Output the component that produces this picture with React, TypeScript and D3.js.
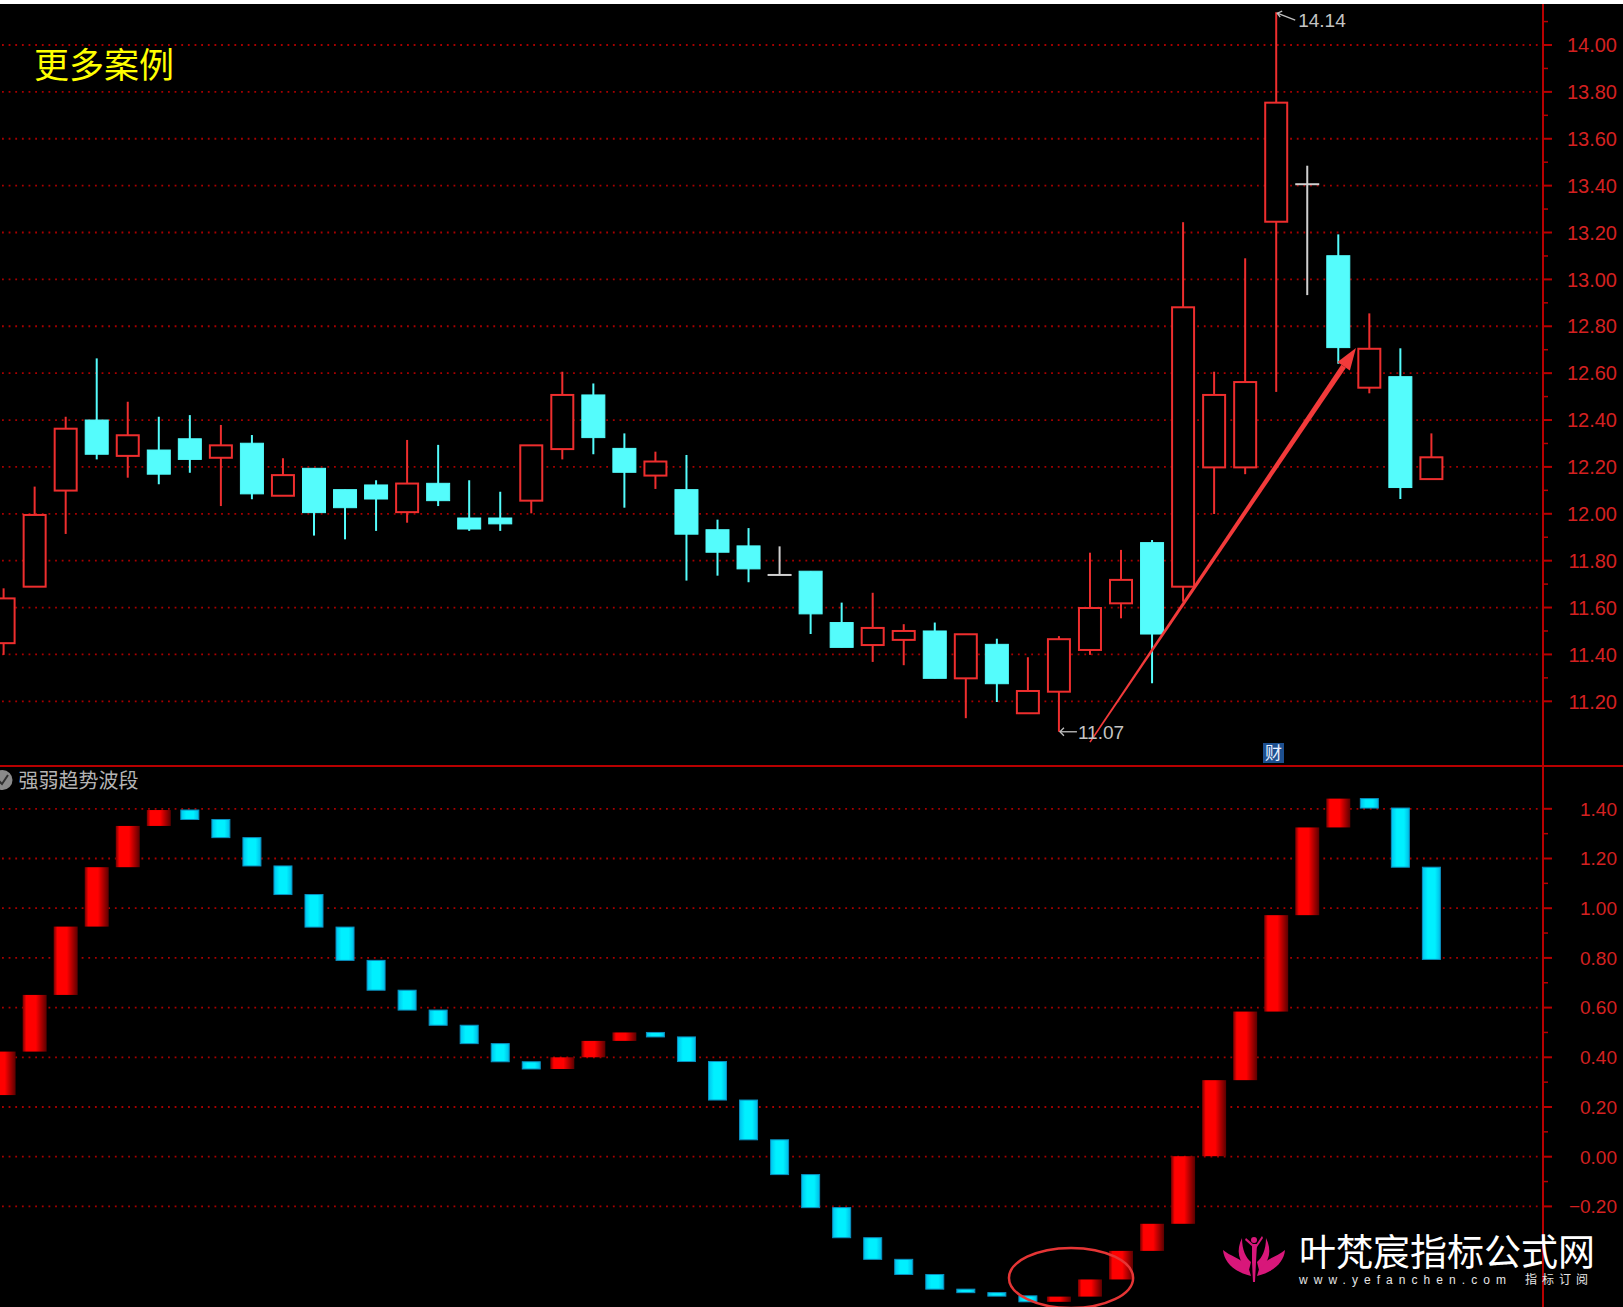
import React from 'react';
import * as d3 from 'd3';

const W = 1623;
const H = 1307;

// Daily candles (open / high / low / close)
const opens = [11.448, 11.689, 12.099, 12.4, 12.247, 12.272, 12.32, 12.239, 12.301, 12.077, 12.194, 12.103, 12.123, 12.007, 12.13, 11.982, 11.982, 12.056, 12.276, 12.507, 12.279, 12.163, 12.103, 11.932, 11.863, 11.739, 11.755, 11.536, 11.44, 11.462, 11.5, 11.298, 11.443, 11.149, 11.241, 11.419, 11.618, 11.877, 11.689, 12.198, 12.198, 13.246, 13.406, 13.101, 12.538, 12.585, 12.148];
const highs = [11.682, 12.116, 12.414, 12.663, 12.478, 12.414, 12.421, 12.379, 12.336, 12.237, 12.194, 12.103, 12.143, 12.315, 12.294, 12.143, 12.094, 12.292, 12.606, 12.556, 12.343, 12.265, 12.251, 11.975, 11.939, 11.861, 11.755, 11.621, 11.663, 11.529, 11.536, 11.486, 11.467, 11.388, 11.478, 11.834, 11.846, 11.888, 13.244, 12.606, 13.09, 14.14, 13.485, 13.192, 12.855, 12.706, 12.343];
const lows = [11.398, 11.689, 11.914, 12.232, 12.154, 12.126, 12.175, 12.033, 12.062, 12.077, 11.907, 11.891, 11.927, 11.962, 12.033, 11.927, 11.927, 12.002, 12.232, 12.254, 12.026, 12.106, 11.715, 11.736, 11.708, 11.739, 11.487, 11.43, 11.368, 11.354, 11.298, 11.128, 11.197, 11.149, 11.07, 11.398, 11.554, 11.277, 11.625, 11.999, 12.169, 12.52, 12.933, 12.64, 12.514, 12.063, 12.148];
const closes = [11.639, 11.995, 12.363, 12.254, 12.335, 12.169, 12.232, 12.292, 12.085, 12.165, 12.005, 12.026, 12.063, 12.129, 12.056, 11.935, 11.957, 12.292, 12.507, 12.325, 12.177, 12.223, 11.913, 11.836, 11.765, 11.739, 11.573, 11.43, 11.513, 11.5, 11.298, 11.486, 11.275, 11.244, 11.465, 11.598, 11.718, 11.487, 12.881, 12.507, 12.562, 13.754, 13.406, 12.709, 12.704, 12.112, 12.241];
const priceTicks = [14.0, 13.8, 13.6, 13.4, 13.2, 13.0, 12.8, 12.6, 12.4, 12.2, 12.0, 11.8, 11.6, 11.4, 11.2];

// 强弱趋势波段 line: first entry is the level before the first day
const bandValues = [0.248, 0.423, 0.651, 0.926, 1.165, 1.331, 1.395, 1.357, 1.284, 1.17, 1.055, 0.924, 0.79, 0.67, 0.59, 0.529, 0.455, 0.382, 0.353, 0.4, 0.466, 0.5, 0.482, 0.383, 0.228, 0.068, -0.072, -0.205, -0.326, -0.413, -0.474, -0.533, -0.547, -0.56, -0.584, -0.563, -0.494, -0.379, -0.27, 0.002, 0.308, 0.584, 0.972, 1.325, 1.441, 1.403, 1.165, 0.794];
const bandTicks = [1.4, 1.2, 1.0, 0.8, 0.6, 0.4, 0.2, 0.0, -0.2];

// annotations in data units
const trendArrow = { from: [35.0, 11.026], to: [43.57, 12.707] };
const turnMark = { index: 34.39, value: -0.488, rIndex: 2.0, rValue: 0.121 };
const highMark = { index: 41, value: 14.14 };
const lowMark = { index: 34, value: 11.07 };

const AXIS_X = 1543;
const SPLIT_Y = 766;
const RED = '#ee2e2e';
const CYAN = '#54fcfc';
const GRID = '#a80000';
const AXIS = '#b80000';
const LABEL = '#d42020';

const x = d3.scaleLinear().domain([0, 46]).range([3.6, 1431.4]);
const yP = d3.scaleLinear().domain([11.2, 14.0]).range([701.3, 45]);
const yB = d3.scaleLinear().domain([-0.2, 1.4]).range([1206.4, 808.8]);

function Candles() {
  return (
    <g>
      {opens.map((o, i) => {
        const c = closes[i];
        const h = highs[i];
        const l = lows[i];
        const cx = x(i);
        if (o === c) {
          const col = '#d0d0d0';
          return (
            <g key={i} stroke={col} strokeWidth={2}>
              <line x1={cx} x2={cx} y1={yP(h)} y2={yP(l)} />
              <line x1={cx - 12} x2={cx + 12} y1={yP(o)} y2={yP(o)} />
            </g>
          );
        }
        const top = yP(Math.max(o, c));
        const bot = yP(Math.min(o, c));
        if (c > o) {
          return (
            <g key={i} stroke={RED} strokeWidth={2} fill="#000">
              <line x1={cx} x2={cx} y1={yP(h)} y2={top} />
              <line x1={cx} x2={cx} y1={bot} y2={yP(l)} />
              <rect x={cx - 11} y={top} width={22} height={Math.max(bot - top, 1)} />
            </g>
          );
        }
        return (
          <g key={i} stroke={CYAN} fill={CYAN}>
            <line x1={cx} x2={cx} y1={yP(h)} y2={yP(l)} strokeWidth={2} />
            <rect x={cx - 11.5} y={top} width={23} height={Math.max(bot - top, 1)} strokeWidth={1} />
          </g>
        );
      })}
    </g>
  );
}

function BandBars() {
  const bars = [];
  for (let i = 0; i < bandValues.length - 1; i++) {
    const prev = bandValues[i];
    const cur = bandValues[i + 1];
    const up = cur > prev;
    const top = yB(Math.max(prev, cur));
    const bot = yB(Math.min(prev, cur));
    const hgt = Math.max(bot - top, 3.5);
    const w = up ? 24 : 18;
    bars.push(
      <rect
        key={i}
        x={x(i) - w / 2}
        y={top}
        width={w}
        height={hgt}
        fill={up ? 'url(#redBar)' : 'url(#cyanBar)'}
        stroke={up ? 'none' : '#0a8fbf'}
        strokeWidth={up ? 0 : 1}
      />
    );
  }
  return <g>{bars}</g>;
}

function Arrow() {
  const x0 = x(trendArrow.from[0]);
  const y0 = yP(trendArrow.from[1]);
  const x1 = x(trendArrow.to[0]);
  const y1 = yP(trendArrow.to[1]);
  const len = Math.hypot(x1 - x0, y1 - y0);
  const ux = (x1 - x0) / len;
  const uy = (y1 - y0) / len;
  const nx = -uy;
  const ny = ux;
  const headLen = 22;
  const bx = x1 - ux * headLen;
  const by = y1 - uy * headLen;
  const shaft = [
    [x0 + nx * 0.8, y0 + ny * 0.8],
    [bx + nx * 2.8, by + ny * 2.8],
    [bx - nx * 2.8, by - ny * 2.8],
    [x0 - nx * 0.8, y0 - ny * 0.8],
  ];
  const head = [
    [x1, y1],
    [bx + nx * 7.5, by + ny * 7.5],
    [bx - nx * 7.5, by - ny * 7.5],
  ];
  const line = d3.line();
  return (
    <g fill="#f23a3a">
      <path d={line(shaft as any) + 'Z'} />
      <path d={line(head as any) + 'Z'} />
    </g>
  );
}

function Lotus() {
  // small magenta lotus emblem
  const cx = 1254;
  return (
    <g fill="#d8177a" stroke="none">
      <path d={`M${cx - 3},1276 C${cx - 20},1272 ${cx - 30},1262 ${cx - 31},1250 C${cx - 24},1256 ${cx - 14},1258 ${cx - 6},1266 Z`} />
      <path d={`M${cx + 3},1276 C${cx + 20},1272 ${cx + 30},1262 ${cx + 31},1250 C${cx + 24},1256 ${cx + 14},1258 ${cx + 6},1266 Z`} />
      <path d={`M${cx - 5},1270 C${cx - 16},1262 ${cx - 18},1250 ${cx - 12},1238 C${cx - 12},1250 ${cx - 8},1258 ${cx - 3},1262 Z`} />
      <path d={`M${cx + 5},1270 C${cx + 16},1262 ${cx + 18},1250 ${cx + 12},1238 C${cx + 12},1250 ${cx + 8},1258 ${cx + 3},1262 Z`} />
      <circle cx={cx} cy={1240} r={3} />
      <path d={`M${cx - 2},1244 L${cx + 3},1244 L${cx + 2},1262 L${cx + 1},1282 L${cx - 1},1282 L${cx - 2},1262 Z`} />
      <path d={`M${cx},1248 L${cx - 9},1240 L${cx - 8},1238 L${cx},1245 Z`} />
      <path d={`M${cx},1248 L${cx + 8},1236 L${cx + 9},1238 L${cx + 1},1250 Z`} />
    </g>
  );
}

export default function App() {
  const numFont = '"Liberation Sans", Arial, sans-serif';
  const cjkFont = '"Noto Sans CJK SC", "Noto Sans", sans-serif';
  const hx = x(highMark.index);
  const hy = yP(highMark.value);
  const lx = x(lowMark.index);
  const ly = yP(lowMark.value);
  const minorPrice = d3.range(0, priceTicks.length - 1).map((k) => (priceTicks[k] + priceTicks[k + 1]) / 2);
  const minorBand = d3.range(0, bandTicks.length - 1).map((k) => (bandTicks[k] + bandTicks[k + 1]) / 2);
  return (
    <div style={{ position: 'absolute', left: 0, top: 0, width: W, height: H, background: '#000' }}>
      <svg width={W} height={H} viewBox={`0 0 ${W} ${H}`} style={{ display: 'block' }}>
        <defs>
          <linearGradient id="redBar" x1="0" x2="1" y1="0" y2="0">
            <stop offset="0" stopColor="#700000" />
            <stop offset="0.15" stopColor="#ff0000" />
            <stop offset="0.55" stopColor="#ff0000" />
            <stop offset="1" stopColor="#5a0000" />
          </linearGradient>
          <linearGradient id="cyanBar" x1="0" x2="1" y1="0" y2="0">
            <stop offset="0" stopColor="#00c4ee" />
            <stop offset="0.3" stopColor="#00f0ff" />
            <stop offset="0.7" stopColor="#00f0ff" />
            <stop offset="1" stopColor="#00bce6" />
          </linearGradient>
          <clipPath id="topPane">
            <rect x={0} y={4} width={AXIS_X} height={SPLIT_Y - 4} />
          </clipPath>
          <clipPath id="lowPane">
            <rect x={0} y={SPLIT_Y + 1} width={AXIS_X} height={H - SPLIT_Y} />
          </clipPath>
        </defs>
        <rect x={0} y={0} width={W} height={H} fill="#000" />
        <rect x={0} y={0} width={W} height={4} fill="#fff" />

        {/* price grid */}
        {priceTicks.map((t) => (
          <line key={'pg' + t} x1={2} x2={AXIS_X} y1={yP(t)} y2={yP(t)} stroke={GRID} strokeWidth={1.8} strokeDasharray="1.8 4.84" />
        ))}
        {/* band grid */}
        {bandTicks.map((t) => (
          <line key={'bg' + t} x1={2} x2={AXIS_X} y1={yB(t)} y2={yB(t)} stroke={GRID} strokeWidth={1.8} strokeDasharray="1.8 4.84" />
        ))}

        <g clipPath="url(#topPane)">
          <Candles />
          <Arrow />
        </g>

        <g clipPath="url(#lowPane)">
          <BandBars />
          <ellipse cx={x(turnMark.index)} cy={yB(turnMark.value)} rx={x(turnMark.index + turnMark.rIndex) - x(turnMark.index)} ry={yB(0) - yB(turnMark.rValue)} fill="none" stroke="#e53535" strokeWidth={2.5} />
        </g>

        {/* frame */}
        <line x1={AXIS_X} x2={AXIS_X} y1={4} y2={H} stroke={AXIS} strokeWidth={2} />
        <line x1={0} x2={W} y1={SPLIT_Y} y2={SPLIT_Y} stroke={AXIS} strokeWidth={2} />

        {/* price axis */}
        {priceTicks.map((t) => (
          <g key={'pt' + t}>
            <line x1={AXIS_X} x2={AXIS_X + 9} y1={yP(t)} y2={yP(t)} stroke={AXIS} strokeWidth={2} />
            <text x={1617} y={yP(t) + 7.2} textAnchor="end" fill={LABEL} fontSize={20} fontFamily={numFont}>
              {d3.format('.2f')(t)}
            </text>
          </g>
        ))}
        {minorPrice.map((t) => (
          <line key={'pm' + t} x1={AXIS_X} x2={AXIS_X + 5} y1={yP(t)} y2={yP(t)} stroke={AXIS} strokeWidth={1.5} />
        ))}
        <line x1={AXIS_X} x2={AXIS_X + 5} y1={yP(14.1)} y2={yP(14.1)} stroke={AXIS} strokeWidth={1.5} />

        {/* band axis */}
        {bandTicks.map((t) => (
          <g key={'bt' + t}>
            <line x1={AXIS_X} x2={AXIS_X + 9} y1={yB(t)} y2={yB(t)} stroke={AXIS} strokeWidth={2} />
            <text x={1617} y={yB(t) + 6.8} textAnchor="end" fill={LABEL} fontSize={19} fontFamily={numFont}>
              {d3.format('.2f')(t)}
            </text>
          </g>
        ))}
        {minorBand.map((t) => (
          <line key={'bm' + t} x1={AXIS_X} x2={AXIS_X + 5} y1={yB(t)} y2={yB(t)} stroke={AXIS} strokeWidth={1.5} />
        ))}

        {/* extreme price marks */}
        <g stroke="#c0c0c0" strokeWidth={1.3} fill="none">
          <line x1={hx + 1} y1={hy + 1} x2={hx + 19} y2={hy + 8} />
          <polyline points={`${hx + 6},${hy - 1} ${hx + 1},${hy + 1} ${hx + 4},${hy + 5}`} />
          <line x1={lx + 1} y1={ly} x2={lx + 18} y2={ly} />
          <polyline points={`${lx + 5},${ly - 4} ${lx + 1},${ly} ${lx + 5},${ly + 4}`} />
        </g>
        <text x={hx + 22} y={hy + 15} fill="#c4c4c4" fontSize={19} fontFamily={numFont}>
          {d3.format('.2f')(highMark.value)}
        </text>
        <text x={lx + 19} y={ly + 7} fill="#c4c4c4" fontSize={19} fontFamily={numFont}>
          {d3.format('.2f')(lowMark.value)}
        </text>

        {/* 财 marker */}
        <rect x={1263} y={743} width={21} height={20} fill="#1d4f8f" />
        <text x={1273.5} y={759} textAnchor="middle" fill="#e8f0ff" fontSize={17} fontFamily={cjkFont}>
          财
        </text>

        {/* titles */}
        <text x={34} y={77.5} fill="#ffff00" fontSize={35} fontFamily={cjkFont}>
          更多案例
        </text>
        <circle cx={2.5} cy={780} r={10} fill="#8a8a8a" />
        <polyline points="-2,780 2,784 8,775" fill="none" stroke="#303030" strokeWidth={2} />
        <text x={18.5} y={788} fill="#b4b4b4" fontSize={20} fontFamily={cjkFont}>
          强弱趋势波段
        </text>

        {/* site mark */}
        <Lotus />
        <text x={1299} y={1266} fill="#ffffff" fontSize={37} fontFamily={cjkFont}>
          叶梵宸指标公式网
        </text>
        <text x={1299} y={1284} fill="#e6e6e6" fontSize={12} fontFamily={numFont} textLength={207} lengthAdjust="spacing">
          www.yefanchen.com
        </text>
        <text x={1525} y={1284} fill="#e6e6e6" fontSize={12} fontFamily={cjkFont} textLength={63} lengthAdjust="spacing">
          指标订阅
        </text>
      </svg>
    </div>
  );
}
